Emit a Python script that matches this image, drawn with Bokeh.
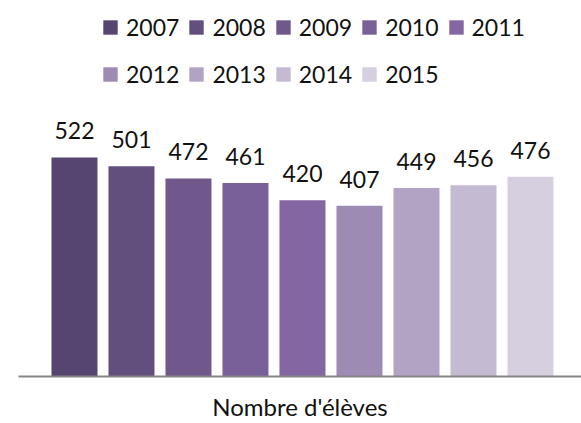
from bokeh.plotting import figure
from bokeh.models import (ColumnDataSource, Range1d, LabelSet, Legend,
                          LegendItem, FixedTicker)
from bokeh.core.properties import value
from bokeh.embed import file_html
from bokeh.resources import INLINE

years = ["2007", "2008", "2009", "2010", "2011", "2012", "2013", "2014", "2015"]
values = [522, 501, 472, 461, 420, 407, 449, 456, 476]
colors = ["#574571", "#634F7E", "#70588C", "#7A6098", "#8466A3",
          "#9D8BB4", "#B2A3C5", "#C4BAD2", "#D5CFDF"]
category = "Nombre d'élèves"

FONT = "Lato"
FS = "23px"
TXT = "#111111"

src = ColumnDataSource(dict(x=list(range(len(years))), top=values,
                            year=years, color=colors,
                            lbl=[str(v) for v in values]))

p = figure(width=581, height=423, output_backend="svg", toolbar_location=None,
           x_range=Range1d(-0.982, 8.895), y_range=Range1d(0, 896),
           y_axis_location=None, min_border_left=18, min_border_right=0,
           min_border_top=0, min_border_bottom=47, outline_line_color=None)
p.grid.visible = False

r = p.vbar(x="x", top="top", width=46 / 57, bottom=0, fill_color="color",
           line_color=None, source=src)

ax = p.xaxis[0]
ax.ticker = FixedTicker(ticks=[])
ax.major_tick_line_color = None
ax.minor_tick_line_color = None
ax.major_tick_out = 0
ax.major_label_standoff = 0
ax.major_label_text_font_size = "0px"
ax.axis_line_color = "#868686"
ax.axis_line_width = 2
ax.axis_label = category
ax.axis_label_standoff = 15
ax.axis_label_text_font = FONT
ax.axis_label_text_font_size = "24px"
ax.axis_label_text_font_style = "normal"
ax.axis_label_text_color = TXT

labels = LabelSet(x="x", y="top", text="lbl", source=src, text_align="center",
                  text_baseline="alphabetic", y_offset=18,
                  text_font=value(FONT), text_font_size=value(FS),
                  text_color=value(TXT))
p.add_layout(labels)

items = [LegendItem(label=y, renderers=[r], index=i) for i, y in enumerate(years)]
for rows, ypos in ((items[:5], 335), (items[5:], 288)):
    lg = Legend(items=rows, orientation="horizontal", location=(83, ypos),
                glyph_width=18, glyph_height=18, label_standoff=7,
                spacing=8, padding=0, margin=0, border_line_color=None,
                background_fill_alpha=0, label_text_font=FONT,
                label_text_font_size=FS, label_text_color=TXT)
    p.add_layout(lg)

open("out.html", "w").write(file_html(p, INLINE))
